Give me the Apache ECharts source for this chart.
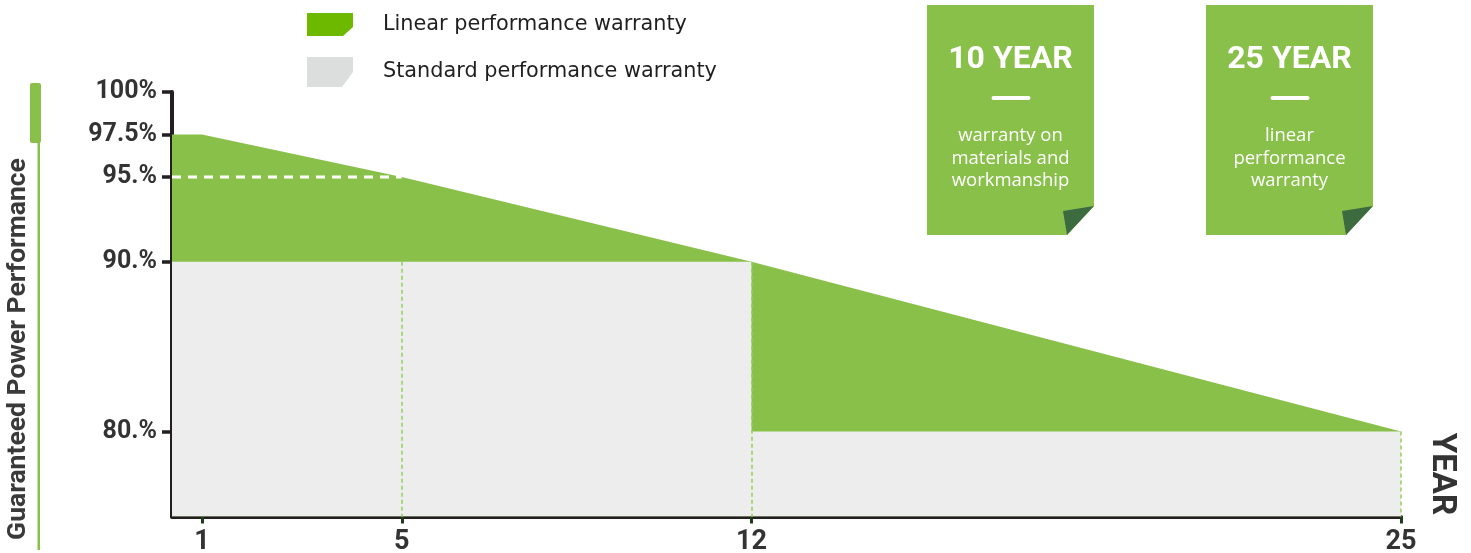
<!DOCTYPE html>
<html>
<head>
<meta charset="utf-8">
<script src="https://cdn.jsdelivr.net/npm/echarts@6/dist/echarts.min.js"></script>
<style>
html,body{margin:0;padding:0;background:#fff;}
#chart{width:1471px;height:553px;}
</style>
</head>
<body>
<div id="chart"></div>
<script>
// ---- data ----
const xStart = 0.4;
const linearYears = [xStart, 1, 5, 12, 25];
const linearValues = [97.5, 97.5, 95, 90, 80];
const standardYears = [xStart, 12, 12, 25];
const standardValues = [90, 90, 80, 80];
const guaranteeYears = [xStart, 5];
const guaranteeValues = [95, 95];
const xTickYears = [1, 5, 12, 25];
const yTickValues = [80, 90, 95, 97.5, 100];
const yTickLabels = ['80.%', '90.%', '95.%', '97.5%', '100%'];
const seriesNames = ['Linear performance warranty', 'Standard performance warranty'];
const badgeTitles = ['10 YEAR', '25 YEAR'];
const badgeTexts = [['warranty on', 'materials and', 'workmanship'], ['linear', 'performance', 'warranty']];
const yAxisTitle = 'Guaranteed Power Performance';
const xAxisTitle = 'YEAR';

// ---- styles ----
const FONT = 'Roboto, "DejaVu Sans", sans-serif';
const FONT2 = '"Open Sans", Roboto, sans-serif';
const FONT3 = '"DejaVu Sans", "Open Sans", sans-serif';
const GREEN = '#89c04a';
const GREEN_LEG = '#6cb900';
const GREY = '#ededed';
const GREY_LEG = '#dcdedd';
const DARK = '#231f20';
const TXT = '#333333';
const FOLD = '#3b6b3e';

const zip = (xs, ys) => xs.map((x, i) => [x, ys[i]]);

const chart = echarts.init(document.getElementById('chart'), null, {renderer: 'canvas'});

// vertical dashed guides at the ticks, down from the standard warranty level
const guideLines = [5, 12, 25].map(yr => {
  let top = yr < 12 ? standardValues[0] : (yr === 12 ? standardValues[1] : standardValues[3]);
  return [{coord: [yr, top]}, {coord: [yr, 75]}];
});

function badge(x0, idx) {
  const w = 167, h = 230, y0 = 5;
  const cx = x0 + w / 2;
  const els = [
    {type: 'polygon', shape: {points: [[x0, y0], [x0 + w, y0], [x0 + w, y0 + 201], [x0 + 140, y0 + h], [x0, y0 + h]]}, style: {fill: GREEN}},
    {type: 'polygon', shape: {points: [[x0 + 136, y0 + 206], [x0 + w, y0 + 201], [x0 + 140, y0 + h]]}, style: {fill: FOLD}},
    {type: 'text', x: cx, y: 60, style: {text: badgeTitles[idx], fill: '#fff', font: 'bold 32px ' + FONT, align: 'center', verticalAlign: 'middle'}},
    {type: 'rect', shape: {x: cx - 19, y: 96, width: 39, height: 4, r: 2}, style: {fill: '#fff'}}
  ];
  badgeTexts[idx].forEach((t, i) => {
    els.push({type: 'text', x: cx, y: 136 + i * 22.5, style: {text: t, fill: '#fff', font: '18.5px ' + FONT2, align: 'center', verticalAlign: 'middle'}});
  });
  return els;
}

const option = {
  animation: false,
  backgroundColor: '#fff',
  grid: {left: 172, right: 70, top: 92, bottom: 36.5, containLabel: false, outerBoundsMode: 'none'},
  legend: [
    {
      left: 307, top: 13, itemWidth: 46, itemHeight: 23, selectedMode: false, padding: 0,
      data: [{name: seriesNames[0], icon: 'path://M0,0H46V14L36,23H0Z', itemStyle: {color: GREEN_LEG}}],
      textStyle: {fontFamily: FONT3, fontSize: 20.8, color: '#1f1f1f', padding: [0, 0, 0, 25]}
    },
    {
      left: 307, top: 57, itemWidth: 46, itemHeight: 30, selectedMode: false, padding: 0,
      data: [{name: seriesNames[1], icon: 'path://M0,0H46V15L35,30H0Z', itemStyle: {color: GREY_LEG}}],
      textStyle: {fontFamily: FONT3, fontSize: 20.8, color: '#1f1f1f', padding: [0, 0, 0, 25]}
    }
  ],
  xAxis: {
    type: 'value', min: xStart, max: 25,
    axisLine: {show: true, lineStyle: {color: DARK, width: 4}},
    splitLine: {show: false},
    axisTick: {show: true, customValues: xTickYears, length: 7, lineStyle: {color: '#1d3a1d', width: 3}},
    axisLabel: {customValues: xTickYears, margin: 12, fontFamily: FONT, fontSize: 27, fontWeight: 'bold', color: TXT,
      formatter: v => String(v)}
  },
  yAxis: {
    type: 'value', min: 75, max: 100,
    axisLine: {show: true, lineStyle: {color: DARK, width: 4}},
    splitLine: {show: false},
    axisTick: {show: true, customValues: yTickValues, length: 10, lineStyle: {color: DARK, width: 3.5}},
    axisLabel: {customValues: yTickValues, margin: 15, fontFamily: FONT, fontSize: 25, fontWeight: 'bold', color: TXT,
      formatter: v => yTickLabels[yTickValues.indexOf(v)]}
  },
  series: [
    {
      name: seriesNames[0], type: 'line', data: zip(linearYears, linearValues),
      showSymbol: false, lineStyle: {width: 0}, itemStyle: {color: GREEN_LEG},
      areaStyle: {color: GREEN, opacity: 1, origin: 'start'}, z: 1, silent: true
    },
    {
      name: seriesNames[1], type: 'line', data: zip(standardYears, standardValues),
      showSymbol: false, lineStyle: {width: 0}, itemStyle: {color: GREY_LEG},
      areaStyle: {color: GREY, opacity: 1, origin: 'start'}, z: 2, silent: true,
      markLine: {
        silent: true, symbol: ['none', 'none'], label: {show: false},
        lineStyle: {color: '#93cf5a', width: 1.5, type: [4, 3]},
        data: guideLines
      }
    },
    {
      name: 'guarantee95', type: 'line', data: zip(guaranteeYears, guaranteeValues),
      showSymbol: false, lineStyle: {color: '#fff', width: 3, type: [9, 7]}, z: 3, silent: true
    }
  ],
  graphic: [
    {type: 'rect', shape: {x: 30, y: 83, width: 11, height: 60, r: 2}, style: {fill: GREEN}},
    {type: 'rect', shape: {x: 37.5, y: 140, width: 2.5, height: 410}, style: {fill: GREEN}},
    {type: 'text', x: 18, y: 349, rotation: Math.PI / 2,
      style: {text: yAxisTitle, fill: '#3a3a3a', font: 'bold 26.5px ' + FONT, align: 'center', verticalAlign: 'middle'}},
    {type: 'text', x: 1441, y: 474, rotation: -Math.PI / 2,
      style: {text: xAxisTitle, fill: TXT, font: 'bold 33px ' + FONT, align: 'center', verticalAlign: 'middle'}},
    ...badge(927, 0),
    ...badge(1206, 1)
  ]
};
chart.setOption(option);
</script>
</body>
</html>
